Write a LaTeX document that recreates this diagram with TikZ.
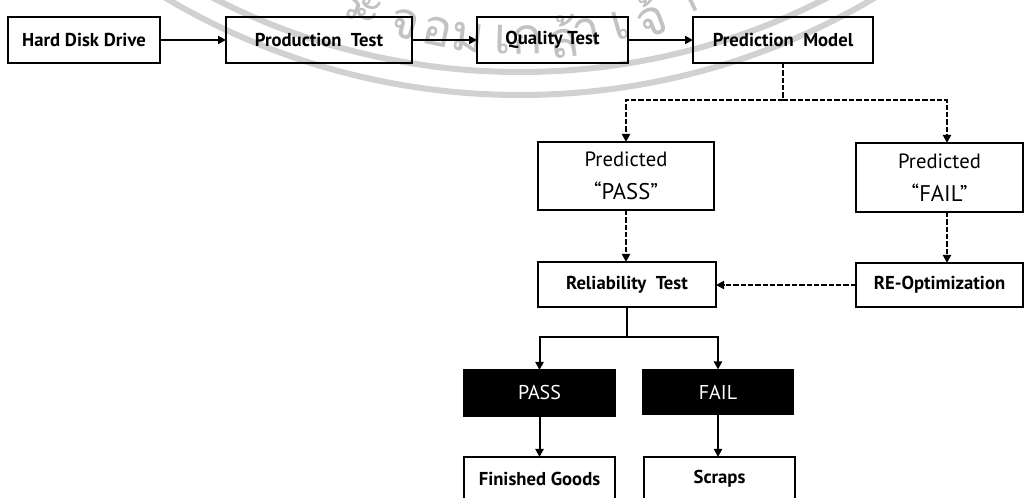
\documentclass[tikz,border=0pt]{standalone}
\usepackage{fontspec}
\setmainfont{PT Sans}
\newfontfamily\thaifont[Script=Thai]{Loma}
\usetikzlibrary{arrows.meta}
\begin{document}
\begin{tikzpicture}[x=0.75pt,y=-0.75pt,
  box/.style={draw=black, line width=1.5pt, inner sep=0pt, outer sep=0pt,
    font=\fontsize{14}{16}\selectfont\bfseries},
  dim/.style 2 args={minimum width=#1*0.75pt, minimum height=#2*0.75pt},
  blk/.style={fill=black, draw=black, line width=1pt, text=white, inner sep=0pt,
    outer sep=0pt, font=\fontsize{15}{17}\selectfont},
  pred/.style={box, align=center, font=\fontsize{15.5}{25}\selectfont},
  flow/.style={line width=1.5pt, -{Triangle[length=6pt,width=6pt]}},
  dline/.style={line width=2pt, dash pattern=on 4pt off 1.5pt},
  dflow/.style={dline, -{Triangle[length=6pt,width=6pt]}},
  seal/.style={black!18},
  sealtxt/.style={text=black!24, inner sep=0pt, font=\thaifont\fontsize{38}{38}\selectfont}]
\useasboundingbox (0,0) rectangle (1025,498);
\clip (0,0) rectangle (1025,498);

% faint seal in the background
\draw[seal, line width=4.5pt] (520,-600) circle[radius=672];
\draw[seal, line width=4.5pt] (520,-600) circle[radius=695];
\foreach \a/\t in {-24.9/ร, -22.4/ะ, -16.6/จ, -11.7/อ, -7.0/ม, -1.8/เ, 1.8/ก,
    7.2/ล้, 10.8/า, 15.8/เ, 20.5/จ้, 25.9/า, 31.3/คุ}
  \node[sealtxt, rotate=\a] at ([shift={(90-\a:385)}]515,-345) {\t};

% process boxes
\node[box, dim={152}{46}] (hdd)  at (84,40)    {Hard Disk Drive};
\node[box, dim={186}{46}] (prod) at (319,40)   {Production~ Test};
\node[box, dim={151}{46}] (qual) at (552.5,40) {Quality Test};
\node[box, dim={180}{46}] (pm)   at (783,40)   {Prediction~ Model};

\node[pred, dim={176}{68}] (ppass) at (626,176)
  {Predicted\\{\fontsize{17}{25}\selectfont “PASS”}};
\node[pred, dim={167}{69}] (pfail) at (939.5,177.5)
  {Predicted\\{\fontsize{17}{25}\selectfont “FAIL”}};

\node[box, dim={178}{45}] (rel)   at (627,284.5)   {Reliability~ Test};
\node[box, dim={167}{44}] (reopt) at (939.5,285)   {RE-Optimization};

\node[blk, dim={151}{46}] (pass) at (539.5,393) {PASS};
\node[blk, dim={150}{45}] (fail) at (718,392)   {FAIL};

\node[box, dim={151}{44}] (fg)  at (539.5,479) {Finished Goods};
\node[box, dim={151}{44}] (scr) at (719.5,479) {Scraps};

% connectors
\draw[flow] (hdd) -- (prod);
\draw[flow] (prod) -- (qual);
\draw[flow] (qual) -- (pm);

\coordinate (split) at (783,100);
\coordinate (fa) at (947,100);
\draw[dline] (pm.south) -- (split);
\draw[dflow] (split) -| (ppass.north);
\draw[dflow] (split) -- (fa) -- (fa|-pfail.north);

\draw[dflow] (ppass.south) -- (ppass.south|-rel.north);
\draw[dflow] (fa|-pfail.south) -- (fa|-reopt.north);
\draw[dflow] (reopt.west) -- (reopt.west-|rel.east);

\coordinate (fork) at (627,337);
\draw[line width=2pt] (rel.south) -- (fork);
\draw[flow] (fork) -| (pass.north);
\draw[flow] (fork) -| (fail.north);
\draw[flow] (pass.south) -- (fg.north);
\draw[flow] (fail.south) -- (fail.south|-scr.north);
\end{tikzpicture}
\end{document}
